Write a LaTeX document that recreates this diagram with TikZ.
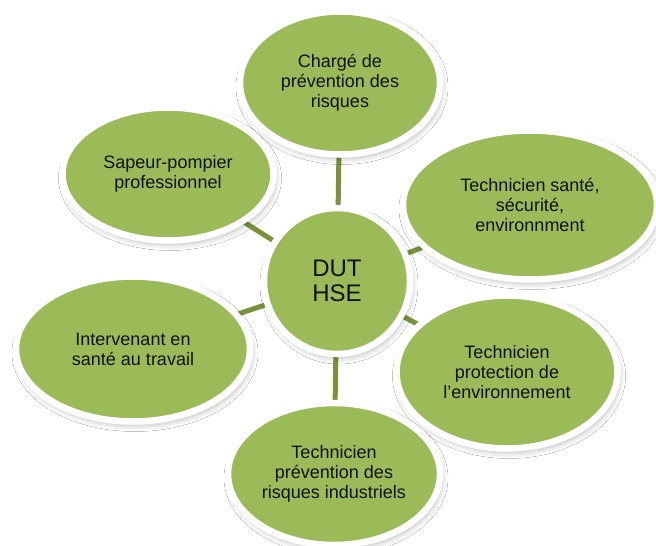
\documentclass[tikz,border=0pt]{standalone}
\usepackage{fontspec}
\setmainfont{Liberation Sans}
\usetikzlibrary{shapes.geometric,shadows.blur}
\definecolor{fillg}{HTML}{9BBB59}
\definecolor{lineg}{HTML}{77933C}
\definecolor{txt}{HTML}{111111}
\begin{document}
\begin{tikzpicture}[x=1pt,y=-1pt,
  bubble/.style={ellipse, fill=fillg, draw=white, line width=6.5pt, inner sep=0pt,
    align=center, text=txt, font=\fontsize{18}{20}\selectfont,
    blur shadow={shadow xshift=2pt, shadow yshift=-4pt, shadow opacity=28, shadow blur radius=6pt}},
  link/.style={draw=lineg, line width=5pt}]
\useasboundingbox (0,0) rectangle (656,546);
\clip (0,0) rectangle (656,546);
\fill[white] (0,0) rectangle (656,546);
% coordinates for connectors
\coordinate (c0) at (337,281);
\coordinate (c1) at (340,83);
\coordinate (c2) at (168,174);
\coordinate (c3) at (530,205);
\coordinate (c4) at (133,349);
\coordinate (c5) at (507,372);
\coordinate (c6) at (334,474);
\draw[link] (c0) -- (c1);
\draw[link] (c0) -- (c2);
\draw[link] (c0) -- (c3);
\draw[link] (c0) -- (c4);
\draw[link] (c0) -- (c5);
\draw[link] (c0) -- (c6);
% nodes
\node[bubble, minimum width=200pt, minimum height=143pt] (top) at (c1) {Chargé de\\prévention des\\risques};
\node[bubble, minimum width=211pt, minimum height=133pt] (sap) at (c2) {Sapeur-pompier\\professionnel};
\node[bubble, minimum width=254pt, minimum height=149pt] (tss) at (c3) {Technicien santé,\\sécurité,\\environnment};
\node[bubble, minimum width=234pt, minimum height=145pt] (ist) at (c4) {Intervenant en\\santé au travail};
\node[bubble, minimum width=221pt, minimum height=153pt] (tpe) at (c5) {Technicien\\protection de\\l’environnement};
\node[bubble, minimum width=212pt, minimum height=142pt] (tpr) at (c6) {Technicien\\prévention des\\risques industriels};
\node[bubble, circle, minimum size=146pt, font=\fontsize{24}{25}\selectfont] (hse) at (c0) {DUT\\HSE};
\end{tikzpicture}
\end{document}
